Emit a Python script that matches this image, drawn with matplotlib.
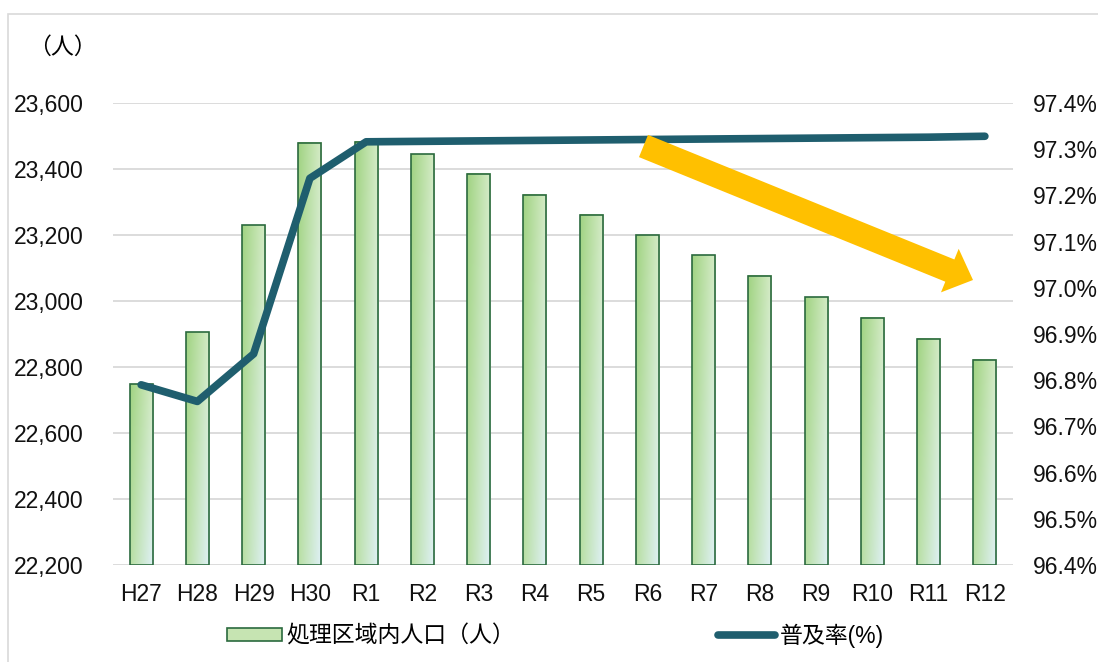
import numpy as np
import matplotlib
matplotlib.use("Agg")
import matplotlib.pyplot as plt
from matplotlib.patches import FancyArrow, Rectangle, Patch
from matplotlib.lines import Line2D
from matplotlib.ticker import FixedLocator, FuncFormatter

plt.rcParams["font.family"] = ["Liberation Sans", "Noto Sans CJK JP"]

# ---- data -------------------------------------------------------------
years = ["H27", "H28", "H29", "H30", "R1", "R2", "R3", "R4",
         "R5", "R6", "R7", "R8", "R9", "R10", "R11", "R12"]
population = [22748, 22906, 23230, 23480, 23483, 23445, 23385, 23322,
              23261, 23200, 23138, 23076, 23012, 22950, 22886, 22822]
coverage = [96.790, 96.754, 96.857, 97.237, 97.316, 97.317, 97.318, 97.319,
            97.320, 97.321, 97.322, 97.323, 97.324, 97.325, 97.326, 97.328]
pop_ticks = [22200, 22400, 22600, 22800, 23000, 23200, 23400, 23600]
rate_ticks = [96.4, 96.5, 96.6, 96.7, 96.8, 96.9, 97.0, 97.1, 97.2, 97.3, 97.4]
pop_label = "処理区域内人口（人）"
rate_label = "普及率(%)"
unit_label = "（人）"

# ---- styling ----------------------------------------------------------
W, H, DPI = 1098, 662, 100
FS = 16.5
GRID = "#D9D9D9"
EDGE = "#2B6A3E"
LINE = "#1F5E6E"
ARROW = "#FFC000"

fig = plt.figure(figsize=(W / DPI, H / DPI), dpi=DPI)
ax = fig.add_axes([113 / W, 1 - 565 / H, 900 / W, 462 / H])
ax2 = ax.twinx()

x = np.arange(len(years))
bar_w = 0.41

# gradient fill: greener on the left, paler / bluish towards the lower right
tl = np.array([160, 211, 130]) / 255
tr = np.array([214, 236, 200]) / 255
bl = np.array([184, 223, 162]) / 255
br = np.array([224, 241, 248]) / 255
n = 64
u = np.linspace(0, 1, n)[None, :, None]
v = np.linspace(0, 1, n)[:, None, None]  # 0 = bottom, 1 = top
grad = (1 - v) * ((1 - u) * bl + u * br) + v * ((1 - u) * tl + u * tr)

base = pop_ticks[0]
bars = ax.bar(x, [p - base for p in population], bottom=base, width=bar_w,
              facecolor="none", edgecolor=EDGE, linewidth=1.2, zorder=3)
for rect in bars:
    x0, y0 = rect.get_x(), rect.get_y()
    ax.imshow(grad, extent=(x0, x0 + rect.get_width(), y0, y0 + rect.get_height()),
              origin="lower", aspect="auto", interpolation="bilinear", zorder=2)

ax.set_xlim(-0.5, len(years) - 0.5)
ax.set_ylim(pop_ticks[0], pop_ticks[-1])
ax.yaxis.set_major_locator(FixedLocator(pop_ticks))
ax.yaxis.set_major_formatter(FuncFormatter(lambda v, p: f"{v:,.0f}"))
ax.set_xticks(x)
ax.set_xticklabels(years)
ax.grid(axis="y", color=GRID, linewidth=1.3)
ax.set_axisbelow(True)
ax.tick_params(axis="y", length=0, pad=21, labelsize=FS, colors="#111111")
ax.tick_params(axis="x", length=0, pad=13, labelsize=FS, colors="#111111")
for s in ax.spines.values():
    s.set_visible(False)

ax2.plot(x, coverage, color=LINE, linewidth=5.5, solid_capstyle="round", zorder=4)
ax2.set_ylim(rate_ticks[0], rate_ticks[-1])
ax2.yaxis.set_major_locator(FixedLocator(rate_ticks))
ax2.yaxis.set_major_formatter(FuncFormatter(lambda v, p: f"{v:.1f}%"))
ax2.tick_params(axis="y", length=0, pad=14, labelsize=FS, colors="#111111")
for s in ax2.spines.values():
    s.set_visible(False)

# unit label above the left axis
fig.text(28 / W, 1 - 47 / H, unit_label, fontsize=FS, va="center", ha="left")

# chart frame
fig.add_artist(Rectangle((7.5 / W, -0.1), 1.2, 1 - 14 / H + 0.1,
                         transform=fig.transFigure, fill=False,
                         edgecolor=GRID, linewidth=1.2))

# downward trend arrow (drawn in inches so the shape is not distorted)
tail = (643.5, 146.0)
tip = (973.0, 280.0)
arrow = FancyArrow(tail[0] / DPI, (H - tail[1]) / DPI,
                   (tip[0] - tail[0]) / DPI, -(tip[1] - tail[1]) / DPI,
                   width=0.24, head_width=0.47, head_length=0.25,
                   length_includes_head=True, transform=fig.dpi_scale_trans,
                   facecolor=ARROW, edgecolor="none", zorder=5)
fig.add_artist(arrow)

# legends
h_bar = Patch(facecolor="#C6E4B2", edgecolor=EDGE, linewidth=1.2)
h_line = Line2D([], [], color=LINE, linewidth=5.5, solid_capstyle="round")
leg1 = fig.legend([h_bar], [pop_label], loc="center left",
                  bbox_to_anchor=(227 / W, 1 - 636 / H), frameon=False,
                  fontsize=FS, handlelength=2.4, handleheight=0.52,
                  handletextpad=0.2, borderpad=0, borderaxespad=0)
leg2 = fig.legend([h_line], [rate_label], loc="center left",
                  bbox_to_anchor=(718 / W, 1 - 636 / H), frameon=False,
                  fontsize=FS, handlelength=2.5, handletextpad=0.2,
                  borderpad=0, borderaxespad=0)

fig.savefig("out.png", dpi=DPI)
